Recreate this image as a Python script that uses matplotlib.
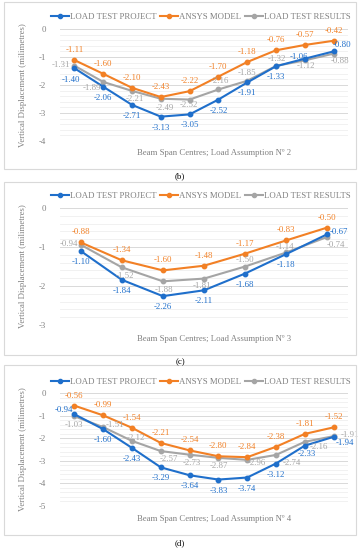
import matplotlib
matplotlib.use("Agg")
import matplotlib.pyplot as plt
from matplotlib.patches import Rectangle
from matplotlib.ticker import MultipleLocator
from matplotlib.lines import Line2D

plt.rcParams['font.family'] = ['Liberation Serif', 'DejaVu Serif']

series_names = ["LOAD TEST PROJECT", "ANSYS MODEL", "LOAD TEST RESULTS"]

b_project = [-1.40, -2.06, -2.71, -3.13, -3.05, -2.52, -1.91, -1.33, -1.06, -0.80]
b_ansys = [-1.11, -1.60, -2.10, -2.43, -2.22, -1.70, -1.18, -0.76, -0.57, -0.42]
b_results = [-1.31, -1.89, -2.21, -2.49, -2.52, -2.16, -1.85, -1.32, -1.12, -0.88]

c_project = [-1.10, -1.84, -2.26, -2.11, -1.68, -1.18, -0.67]
c_ansys = [-0.88, -1.34, -1.60, -1.48, -1.17, -0.83, -0.50]
c_results = [-0.94, -1.52, -1.88, -1.81, -1.50, -1.14, -0.74]

d_project = [-0.94, -1.60, -2.43, -3.29, -3.64, -3.83, -3.74, -3.12, -2.33, -1.94]
d_ansys = [-0.56, -0.99, -1.54, -2.21, -2.54, -2.80, -2.84, -2.38, -1.81, -1.52]
d_results = [-1.03, -1.51, -2.12, -2.57, -2.73, -2.87, -2.96, -2.74, -2.16, -1.91]

b_ticks = [0, -1, -2, -3, -4]
c_ticks = [0, -1, -2, -3]
d_ticks = [0, -1, -2, -3, -4, -5]

xlabels = ["Beam Span Centres; Load Assumption Nº 2",
           "Beam Span Centres; Load Assumption Nº 3",
           "Beam Span Centres; Load Assumption Nº 4"]
captions = ["(b)", "(c)", "(d)"]
ylabel = "Vertical Displacement (milimetres)"

# styling: label offsets in pixels
A, B = (0, 10), (0, -11)
b_off = {
    0: [(-3, -12), B, B, B, B, B, B, B, (-6, 2), (8, 6)],
    1: [A] * 10,
    2: [(-13, 1), (-11, -6), (3, -8), (4, -9), (-1, -5), (1, 8), (0, 8), (1, 7), (1, -6), (6, -7)],
}
c_off = {
    0: [B, B, B, B, B, B, (11, 2)],
    1: [A] * 7,
    2: [(-12, 1), (3, -9), (1, -9), (-2, -7), (0, 7), (-1, 5), (8, -8)],
}
d_off = {
    0: [(-11, 4), B, B, B, B, B, B, B, (2, -8), (11, -6)],
    1: [A] * 10,
    2: [(0, -9), (12, 2), (4, 3), (8, -8), (2, -8), (0, -8), (10, -3), (16, -8), (14, -5), (16, 1)],
}

colors = ["#1F6FCB", "#F28025", "#A5A5A5"]
W, H = 361, 550
fig = plt.figure(figsize=(W / 100, H / 100), dpi=100)

def fx(px):
    return px / W

def fy(py):
    return 1 - py / H

panels = [
    dict(data=[b_project, b_ansys, b_results], ticks=b_ticks, off=b_off,
         top=29, bot=141, box=(2, 169), leg=17, xl=153, cap=176),
    dict(data=[c_project, c_ansys, c_results], ticks=c_ticks, off=c_off,
         top=208, bot=325, box=(182, 355), leg=196, xl=339, cap=362),
    dict(data=[d_project, d_ansys, d_results], ticks=d_ticks, off=d_off,
         top=393, bot=506, box=(365, 535), leg=382, xl=519, cap=543),
]

fs = 6.3
grid_major = "#D9D9D9"
grid_minor = "#EFEFEF"

for i, p in enumerate(panels):
    y0, y1 = p["box"]
    fig.patches.append(Rectangle((fx(4), fy(y1)), fx(352), (y1 - y0) / H,
                                 transform=fig.transFigure, fill=False,
                                 edgecolor="#D9D9D9", lw=0.8))
    left, right = 60, 348
    ax = fig.add_axes([fx(left), fy(p["bot"]), (right - left) / W, (p["bot"] - p["top"]) / H])
    n = len(p["data"][0])
    x = list(range(n))
    ax.set_xlim(-0.5, n - 0.5)
    ax.set_ylim(min(p["ticks"]), max(p["ticks"]))
    ax.set_yticks(p["ticks"])
    ax.set_yticklabels([str(t) if t == 0 else "-%d" % abs(t) for t in p["ticks"]])
    ax.yaxis.set_minor_locator(MultipleLocator(0.2))
    ax.grid(True, which="major", axis="y", color=grid_major, lw=0.7)
    ax.grid(True, which="minor", axis="y", color=grid_minor, lw=0.6)
    ax.set_axisbelow(True)
    for s in ax.spines.values():
        s.set_visible(False)
    ax.set_xticks([])
    ax.tick_params(axis="y", which="both", length=0, pad=10, labelsize=fs, labelcolor="#808080")
    for k, vals in enumerate(p["data"]):
        ax.plot(x, vals, color=colors[k], lw=1.5, marker="o", ms=3.2, zorder=3 + (2 - k) * 0.1,
                clip_on=False)
        for j, v in enumerate(vals):
            dx, dy = p["off"][k][j]
            ax.annotate("%.2f" % v, (j, v), xytext=(dx, dy), textcoords="offset pixels",
                        ha="center", va="center", fontsize=fs, color=colors[k],
                        annotation_clip=False, zorder=5)
    ax.set_ylabel(ylabel, fontsize=fs, color="#808080")
    ax.yaxis.set_label_coords(-0.115, 0.5)
    fig.text(fx(214), fy(p["xl"]), xlabels[i], ha="center", va="center", fontsize=fs, color="#808080")
    fig.text(fx(180), fy(p["cap"]), captions[i], ha="center", va="center", fontsize=fs, color="black")
    handles = [Line2D([], [], color=c, lw=1.5, marker="o", ms=3.0) for c in colors]
    leg = fig.legend(handles, series_names, loc="center", bbox_to_anchor=(fx(201), fy(p["leg"])),
                     ncol=3, frameon=False, fontsize=fs, handlelength=2.0, handletextpad=0.15,
                     columnspacing=0.45, borderaxespad=0, borderpad=0)
    for t in leg.get_texts():
        t.set_color("#808080")

fig.savefig("out.png", dpi=100)
